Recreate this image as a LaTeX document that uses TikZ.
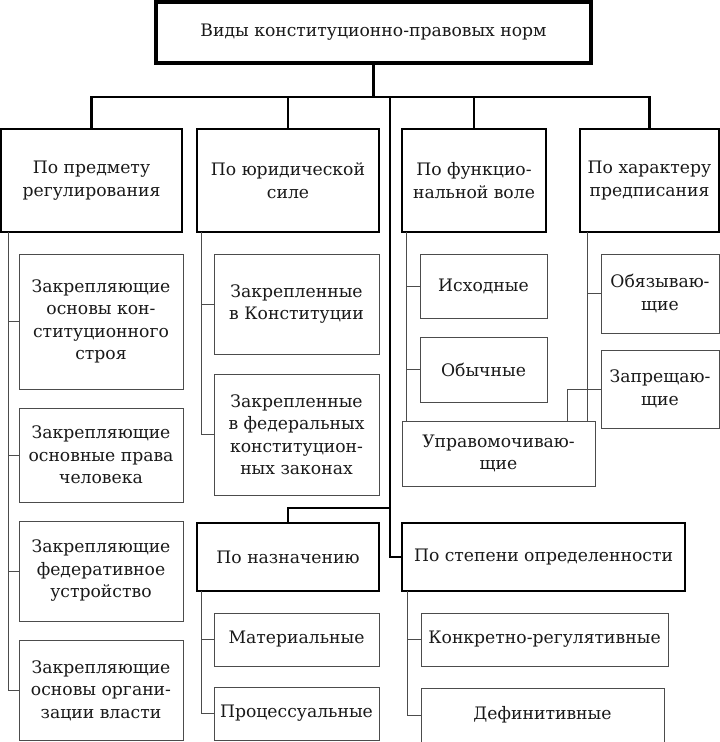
\documentclass[tikz,border=0pt]{standalone}
\usepackage{fontspec}
\setmainfont{DejaVu Serif}
\begin{document}
\begin{tikzpicture}[x=1pt,y=-1pt,
  every node/.style={font=\fontsize{17.2}{22.5}\selectfont, text=black!90, align=center, inner sep=0pt},
  topbox/.style={draw=black, line width=3.5pt, minimum width=435pt, minimum height=61pt},
  catbox/.style={draw=black, line width=2.2pt, minimum width=#1, minimum height=103pt},
  midbox/.style={draw=black, line width=2.2pt, minimum width=#1, minimum height=68pt},
  leaf/.style 2 args={draw=black!70, line width=1pt, minimum width=#1, minimum height=#2},
  thick link/.style={draw=black, line width=2.2pt},
  thin link/.style={draw=black!70, line width=1pt}
]
\useasboundingbox (0,0) rectangle (720,742);
\fill[white] (0,0) rectangle (720,742);

% top
\node[topbox] (top) at (373.5,32.5) {Виды конституционно-правовых норм};

% level 1
\node[catbox=181pt] (b1) at (91.5,180.5) {По предмету\\регулирования};
\node[catbox=182pt] (b2) at (288,180.5) {По юридической\\силе};
\node[catbox=144pt] (b3) at (474,180.5) {По функцио-\\нальной воле};
\node[catbox=139pt] (b4) at (649.5,180.5) {По характеру\\предписания};
\node[midbox=182pt] (b5) at (288,557) {По назначению};
\node[midbox=283pt] (b6) at (543.5,557) {По степени определенности};

% leaves
\node[leaf={164pt}{135pt}] (c11) at (101,321.5) {Закрепляющие\\основы кон-\\ституционного\\строя};
\node[leaf={164pt}{94pt}] (c12) at (101,455) {Закрепляющие\\основные права\\человека};
\node[leaf={164pt}{100pt}] (c13) at (101,571) {Закрепляющие\\федеративное\\устройство};
\node[leaf={164pt}{100pt}] (c14) at (101,690.5) {Закрепляющие\\основы органи-\\зации власти};

\node[leaf={165pt}{100pt}] (c21) at (296.5,304) {Закрепленные\\в Конституции};
\node[leaf={165pt}{121pt}] (c22) at (296.5,434.5) {Закрепленные\\в федеральных\\конституцион-\\ных законах};

\node[leaf={127pt}{64pt}] (c31) at (483.5,286) {Исходные};
\node[leaf={127pt}{65pt}] (c32) at (483.5,369.5) {Обычные};
\node[leaf={193pt}{65pt}] (c33) at (498.5,453.5) {Управомочиваю-\\щие};

\node[leaf={118pt}{79pt}] (c41) at (660,293.5) {Обязываю-\\щие};
\node[leaf={118pt}{78pt}] (c42) at (660,389) {Запрещаю-\\щие};

\node[leaf={165pt}{53pt}] (c51) at (296.5,639.5) {Материальные};
\node[leaf={165pt}{53pt}] (c52) at (296.5,713.5) {Процессуальные};
\node[leaf={247pt}{53pt}] (c61) at (544.5,639.5) {Конкретно-регулятивные};
\node[leaf={243pt}{54pt}] (c62) at (542.5,715) {Дефинитивные};

% coordinates
\coordinate (bus) at (373.5,97);
\coordinate (busL) at (91.5,97);
\coordinate (busR) at (649.5,97);
\coordinate (trunkTop) at (390,97);
\coordinate (trunkBr) at (390,508);

% main connectors
\draw[thick link] (top.south) -- (bus);
\draw[thick link, line cap=rect] (busL) -- (busR);
\draw[thick link] (busL) -- (b1.north);
\draw[thick link] (b2.north |- bus) -- (b2.north);
\draw[thick link] (b3.north |- bus) -- (b3.north);
\draw[thick link] (busR) -- (b4.north);
\draw[thick link] (trunkTop) -- (trunkBr) -| (b5.north);
\draw[thick link] (trunkBr) |- (b6.west);

% leaf connectors
\draw[thin link] (8,232) |- (c14.west);
\draw[thin link] (8,0 |- c11.west) -- (c11.west);
\draw[thin link] (8,0 |- c12.west) -- (c12.west);
\draw[thin link] (8,0 |- c13.west) -- (c13.west);

\draw[thin link] (201,232) |- (c22.west);
\draw[thin link] (201,0 |- c21.west) -- (c21.west);

\draw[thin link] (406,232) -- (406,0 |- c33.north);
\draw[thin link] (406,0 |- c31.west) -- (c31.west);
\draw[thin link] (406,0 |- c32.west) -- (c32.west);

\draw[thin link] (587,232) -- (587,0 |- c33.north);
\draw[thin link] (587,0 |- c41.west) -- (c41.west);
\draw[thin link] (c42.west) -| (567,0 |- c33.north);

\draw[thin link] (201,591) |- (c52.west);
\draw[thin link] (201,0 |- c51.west) -- (c51.west);
\draw[thin link] (407,591) |- (c62.west);
\draw[thin link] (407,0 |- c61.west) -- (c61.west);
\end{tikzpicture}
\end{document}
